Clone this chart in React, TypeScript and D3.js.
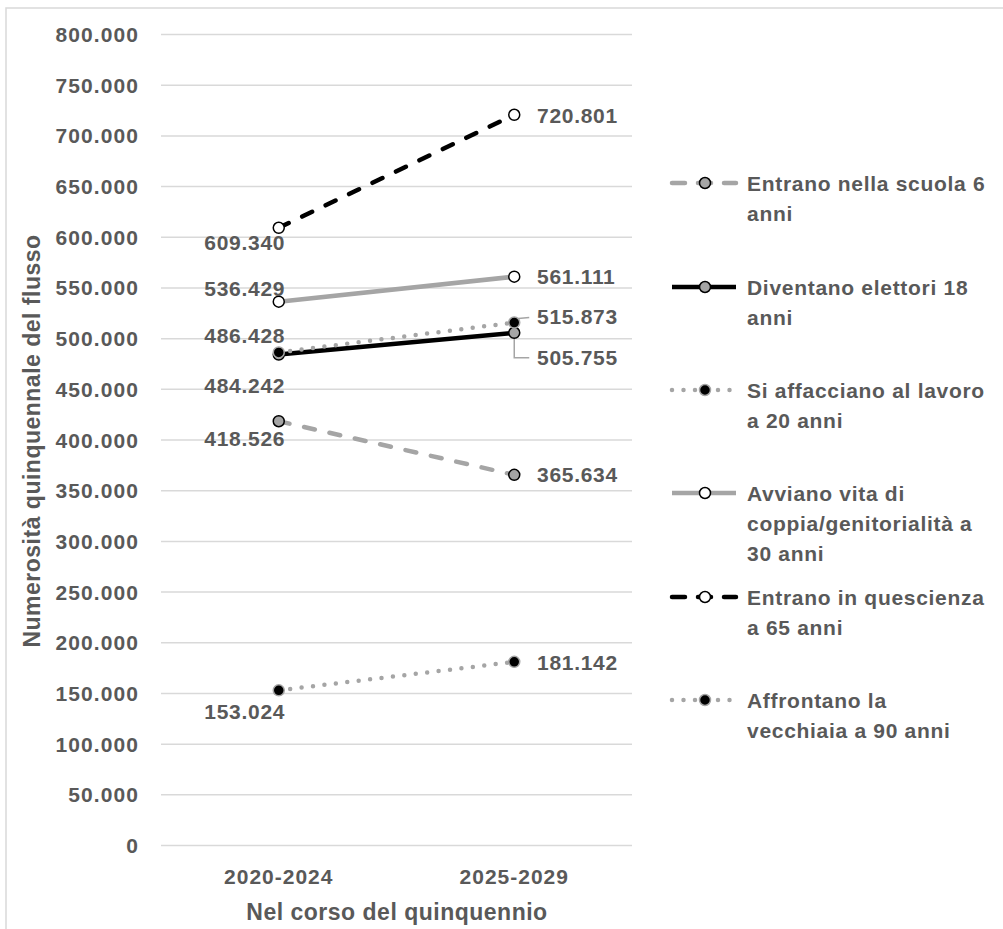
import React from "react";
import * as d3 from "d3";

const categories = ["2020-2024", "2025-2029"];
const seriesNames = [
  "Entrano nella scuola 6 anni",
  "Diventano elettori 18 anni",
  "Si affacciano al lavoro a 20 anni",
  "Avviano vita di coppia/genitorialità a 30 anni",
  "Entrano in quescienza a 65 anni",
  "Affrontano la vecchiaia a 90 anni",
];
const scuola6 = [418526, 365634];
const elettori18 = [484242, 505755];
const lavoro20 = [486428, 515873];
const coppia30 = [536429, 561111];
const quiescenza65 = [609340, 720801];
const vecchiaia90 = [153024, 181142];
const yTicks = [0, 50000, 100000, 150000, 200000, 250000, 300000, 350000, 400000, 450000, 500000, 550000, 600000, 650000, 700000, 750000, 800000];
const legendLines = [
  ["Entrano nella scuola 6", "anni"],
  ["Diventano elettori 18", "anni"],
  ["Si affacciano al lavoro", "a 20 anni"],
  ["Avviano vita di", "coppia/genitorialità a", "30 anni"],
  ["Entrano in quescienza", "a 65 anni"],
  ["Affrontano la", "vecchiaia a 90 anni"],
];

const GRAY = "#A5A5A5";
const TEXT = "#595959";
const FONT = "'Liberation Sans', Arial, sans-serif";

type Style = { color: string; dash: string | null; cap: string; fill: string; mstroke: string };
const styles: Style[] = [
  { color: GRAY, dash: "11 15", cap: "round", fill: GRAY, mstroke: "#000" },
  { color: "#000", dash: null, cap: "butt", fill: GRAY, mstroke: "#000" },
  { color: GRAY, dash: "0 11.5", cap: "round", fill: "#000", mstroke: GRAY },
  { color: GRAY, dash: null, cap: "butt", fill: "#fff", mstroke: "#000" },
  { color: "#000", dash: "11 15", cap: "round", fill: "#fff", mstroke: "#000" },
  { color: GRAY, dash: "0 11.5", cap: "round", fill: "#000", mstroke: GRAY },
];
// label offsets: [left dy, right dy]
const leftDy = [17, 31, -17, -13, 15, 21];
const rightDy = [0, 25, -6, 0, 1, 1];

export default function App() {
  const series = [scuola6, elettori18, lavoro20, coppia30, quiescenza65, vecchiaia90];
  const x = d3.scalePoint<string>().domain(categories).range([161, 632]).padding(0.5);
  const y = d3.scaleLinear().domain([0, 800000]).range([845.5, 34.5]);
  const fmt = (v: number) => d3.format(",")(v).replace(/,/g, ".");
  const line = d3
    .line<number>()
    .x((_, i) => x(categories[i]) as number)
    .y((d) => y(d));

  const textProps = {
    fontFamily: FONT,
    fontWeight: 700,
    fontSize: 21,
    fill: TEXT,
    letterSpacing: 0.7,
  } as const;
  const titleProps = { ...textProps, fontSize: 23, letterSpacing: 0.5 };

  const legendY0 = [183, 287, 390, 493, 597, 700];

  return (
    <svg width={1003} height={929} style={{ position: "absolute", left: 0, top: 0 }}>
      <rect x={0} y={0} width={1003} height={929} fill="#fff" />
      <rect x={6} y={8} width={1010} height={940} fill="none" stroke="#D9D9D9" strokeWidth={1.5} />
      {yTicks.map((t) => (
        <g key={t}>
          <line x1={161} x2={632} y1={y(t)} y2={y(t)} stroke="#D9D9D9" strokeWidth={1.5} />
          <text {...textProps} letterSpacing={1.1} x={139} y={y(t)} textAnchor="end" dominantBaseline="central">
            {fmt(t)}
          </text>
        </g>
      ))}
      {categories.map((c) => (
        <text key={c} {...textProps} letterSpacing={1} x={x(c)} y={876} textAnchor="middle" dominantBaseline="central">
          {c}
        </text>
      ))}
      <text {...titleProps} x={397} y={912} textAnchor="middle" dominantBaseline="central">
        Nel corso del quinquennio
      </text>
      <text
        {...titleProps}
        transform={`translate(32,441) rotate(-90)`}
        textAnchor="middle"
        dominantBaseline="central"
      >
        Numerosità quinquennale del flusso
      </text>
      {/* leader lines */}
      <path
        d={`M${(x(categories[1]) as number) + 4},${y(lavoro20[1]) - 4} L${(x(categories[1]) as number) + 15},${y(lavoro20[1]) - 5}`}
        stroke={GRAY}
        strokeWidth={1.5}
        fill="none"
      />
      <path
        d={`M${x(categories[1])},${y(elettori18[1]) + 3} L${x(categories[1])},${y(elettori18[1]) + 25} L${(x(categories[1]) as number) + 15},${y(elettori18[1]) + 25}`}
        stroke={GRAY}
        strokeWidth={1.5}
        fill="none"
      />
      {series.map((s, i) => (
        <g key={seriesNames[i]}>
          <path
            d={line(s) as string}
            fill="none"
            stroke={styles[i].color}
            strokeWidth={4.5}
            strokeDasharray={styles[i].dash ?? undefined}
            strokeLinecap={styles[i].cap as any}
          />
          {s.map((v, j) => (
            <circle
              key={j}
              cx={x(categories[j])}
              cy={y(v)}
              r={5.5}
              fill={styles[i].fill}
              stroke={styles[i].mstroke}
              strokeWidth={1.5}
            />
          ))}
        </g>
      ))}
      {series.map((s, i) => (
        <g key={"lab" + i}>
          <text
            {...textProps}
            x={(x(categories[0]) as number) - 34}
            y={y(s[0]) + leftDy[i]}
            textAnchor="middle"
            dominantBaseline="central"
          >
            {fmt(s[0])}
          </text>
          <text
            {...textProps}
            x={537}
            y={y(s[1]) + rightDy[i]}
            textAnchor="start"
            dominantBaseline="central"
          >
            {fmt(s[1])}
          </text>
        </g>
      ))}
      {legendLines.map((lines, i) => (
        <g key={"leg" + i}>
          <line
            x1={672}
            x2={736}
            y1={legendY0[i]}
            y2={legendY0[i]}
            stroke={styles[i].color}
            strokeWidth={4.5}
            strokeDasharray={styles[i].dash ? (styles[i].dash === "11 15" ? "13 13" : styles[i].dash!) : undefined}
            strokeLinecap={styles[i].cap as any}
          />
          <circle cx={705} cy={legendY0[i]} r={5.5} fill={styles[i].fill} stroke={styles[i].mstroke} strokeWidth={1.5} />
          {lines.map((l, k) => (
            <text key={k} {...textProps} x={747} y={legendY0[i] + k * 30} dominantBaseline="central">
              {l}
            </text>
          ))}
        </g>
      ))}
    </svg>
  );
}
